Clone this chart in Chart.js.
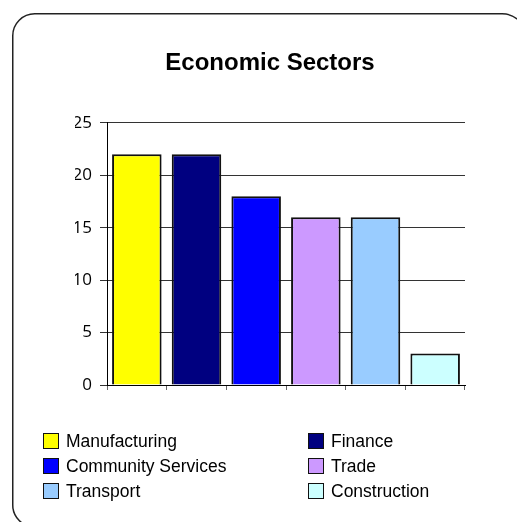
<!DOCTYPE html>
<html>
<head>
<meta charset="utf-8">
<script src="https://cdn.jsdelivr.net/npm/chart.js@4.4.1/dist/chart.umd.min.js"></script>
<style>
  html, body { margin: 0; padding: 0; background: #fff; }
  html { overflow: hidden; }
  body { width: 517px; height: 522px; position: relative; }
  #frame { position: absolute; left: 0; top: 0; }
  #myChart { position: absolute; left: 0; top: 0; }
  #legend { position: absolute; left: 43px; top: 429px; width: 440px;
            font-family: 'Liberation Sans', Arial, sans-serif; font-size: 17.5px; color: #000; }
  .leg-item { position: absolute; height: 24px; line-height: 24px; white-space: nowrap; }
  .leg-box { position: absolute; left: 0; top: 4px; width: 16px; height: 16px;
             border: 1.5px solid #111; box-sizing: border-box; }
  .leg-text { position: absolute; left: 23px; top: 0; }
</style>
</head>
<body>
<svg id="frame" width="517" height="522">
  <!-- rounded frame; its right and bottom edges fall outside the picture -->
  <path d="M 34.75 13.75 H 502 Q 514 13.75 522 24 L 600 24 L 600 527 L 34.75 527 A 22 22 0 0 1 12.75 505 V 35.75 A 22 22 0 0 1 34.75 13.75"
        fill="none" stroke="#222" stroke-width="1.5"/>
</svg>
<canvas id="myChart" width="517" height="522"></canvas>
<div id="legend"></div>
<script>
var sectors = ['Manufacturing', 'Finance', 'Community Services', 'Trade', 'Transport', 'Construction'];
var shares = [22, 22, 18, 16, 16, 3];
var sectorColors = ['#FFFF00', '#000080', '#0000FF', '#CC99FF', '#99CCFF', '#CCFFFF'];
var yTicks = [0, 5, 10, 15, 20, 25];

var ctx, myChart, legendDiv, i, item;

ctx = document.getElementById('myChart');
myChart = new Chart(ctx, {
  type: 'bar',
  data: {
    labels: sectors,
    datasets: [{
      data: shares,
      backgroundColor: sectorColors,
      borderColor: '#111',
      borderWidth: 2,
      barPercentage: 0.83,
      categoryPercentage: 1
    }]
  },
  options: {
    responsive: false,
    animation: false,
    layout: {
      padding: { left: 75, right: 52, top: 14, bottom: 131 }
    },
    plugins: {
      legend: { display: false },
      tooltip: { enabled: false },
      title: {
        display: true,
        text: 'Economic Sectors',
        color: '#000',
        font: { family: "'Liberation Sans', Arial, sans-serif", size: 24, weight: 'bold' },
        padding: { top: 35, bottom: 45 }
      }
    },
    scales: {
      x: {
        grid: { offset: true, drawOnChartArea: false, drawTicks: true, tickLength: 5, color: '#666' },
        border: { color: '#000', width: 1 },
        ticks: { display: false },
        afterFit: function (s) { s.height = 6; }
      },
      y: {
        min: yTicks[0],
        max: yTicks[yTicks.length - 1],
        afterBuildTicks: function (s) {
          s.ticks = yTicks.map(function (v) { return { value: v }; });
        },
        grid: { color: '#333', tickLength: 7, drawTicks: true },
        border: { color: '#000', width: 1 },
        ticks: {
          padding: 8,
          color: '#000',
          font: { family: "'Open Sans', sans-serif", size: 17 }
        },
        afterFit: function (s) { s.width = 32; }
      }
    }
  }
});

// legend in two columns
legendDiv = document.getElementById('legend');
for (i = 0; i < sectors.length; i++) {
  item = document.createElement('div');
  item.className = 'leg-item';
  item.style.left = (i % 2 === 0 ? 0 : 265) + 'px';
  item.style.top = (Math.floor(i / 2) * 25) + 'px';
  item.innerHTML = '<span class="leg-box" style="background:' + sectorColors[i] + '"></span>' +
    '<span class="leg-text">' + sectors[i] + '</span>';
  legendDiv.appendChild(item);
}
</script>
</body>
</html>
